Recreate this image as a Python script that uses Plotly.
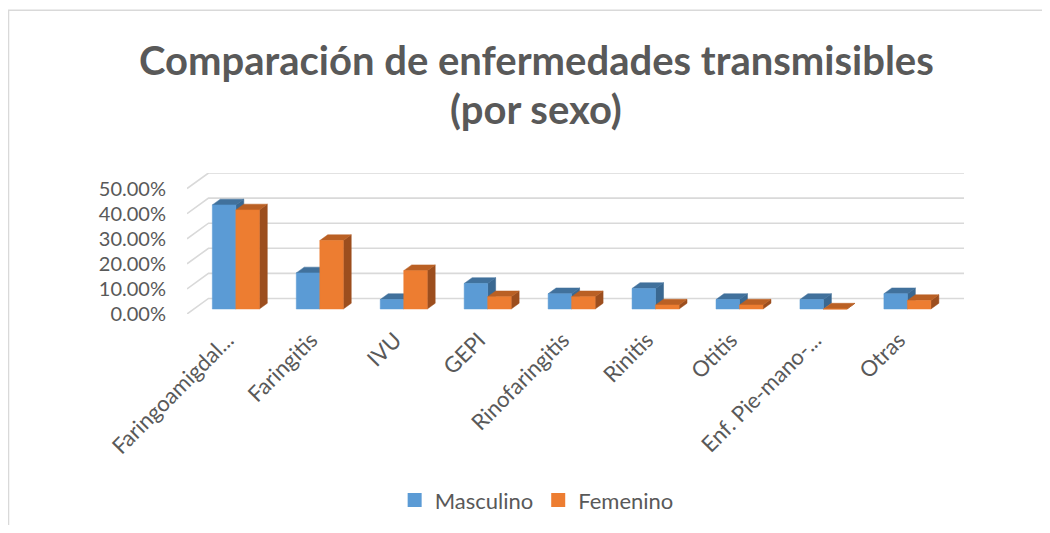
import plotly.graph_objects as go

# ---------------- data ----------------
categories = ["Faringoamigdal...", "Faringitis", "IVU", "GEPI", "Rinofaringitis",
              "Rinitis", "Otitis", "Enf. Pie-mano-...", "Otras"]
masculino = [41.5, 14.4, 3.8, 10.2, 6.1, 8.2, 3.8, 3.8, 6.1]   # %
femenino = [39.5, 27.3, 15.3, 4.9, 4.9, 1.6, 1.6, 0.0, 3.4]    # %
y_ticks = [0, 10, 20, 30, 40, 50]
y_tick_labels = ["0.00%", "10.00%", "20.00%", "30.00%", "40.00%", "50.00%"]
series_names = ["Masculino", "Femenino"]
title_lines = ["Comparación de enfermedades transmisibles", "(por sexo)"]

# ---------------- styling / pseudo-3D geometry ----------------
DX_WALL = 0.256   # floor depth, in category units
DY_WALL = 6.2     # floor depth, in % units
F0 = 0.32         # depth fraction where bar front faces sit
FD = 0.37         # bar depth fraction
BAR_W = 0.28
colors = {
    "Masculino": ("#5B9BD5", "#41719C", "#3A6891"),
    "Femenino": ("#ED7D31", "#BA6024", "#9C4E1E"),
}
GRID = "#D9D9D9"
TEXT = "#595959"
FONT = "Lato"

sx, sy = F0 * DX_WALL, F0 * DY_WALL
ddx, ddy = FD * DX_WALL, FD * DY_WALL
n = len(categories)
x_lo, x_hi = -0.5, n - 0.5

fig = go.Figure()

# back-wall gridlines + left-wall diagonals
for t in y_ticks:
    fig.add_trace(go.Scatter(
        x=[x_lo, x_lo + DX_WALL, x_hi + DX_WALL],
        y=[t, t + DY_WALL, t + DY_WALL],
        mode="lines", line=dict(color=GRID, width=1.6),
        showlegend=False, hoverinfo="skip"))


def faces(values, offset):
    fx, fy, tx, ty, rx, ry = [], [], [], [], [], []
    for k, v in enumerate(values):
        xl = k + sx + offset
        xr = xl + BAR_W
        b = sy
        top = b + v
        fx += [xl, xr, xr, xl, xl, None]
        fy += [b, b, top, top, b, None]
        tx += [xl, xr, xr + ddx, xl + ddx, xl, None]
        ty += [top, top, top + ddy, top + ddy, top, None]
        rx += [xr, xr + ddx, xr + ddx, xr, xr, None]
        ry += [b, b + ddy, top + ddy, top, b, None]
    return (fx, fy), (tx, ty), (rx, ry)


for name, vals, off in [("Masculino", masculino, -BAR_W), ("Femenino", femenino, 0.0)]:
    front, topf, side = faces(vals, off)
    cf, ct, cs = colors[name]
    for (xx, yy), c in [(side, cs), (topf, ct), (front, cf)]:
        fig.add_trace(go.Scatter(
            x=xx, y=yy, mode="lines", fill="toself", fillcolor=c,
            line=dict(color=c, width=0.5), showlegend=False, hoverinfo="skip"))

# legend entries
for name in series_names:
    fig.add_trace(go.Scatter(x=[None], y=[None], name=name, mode="markers",
                             marker=dict(symbol="square", size=14,
                                         color=colors[name][0])))

fig.update_layout(
    width=1034, height=517,
    margin=dict(l=179, r=78, t=165, b=211, autoexpand=False),
    paper_bgcolor="white", plot_bgcolor="white",
    font=dict(family=FONT, color=TEXT, size=20),
    showlegend=True,
    legend=dict(orientation="h", x=0.45, xanchor="center", y=-1.32, yanchor="middle",
                font=dict(size=22, color=TEXT), itemwidth=30, traceorder="normal",
                itemsizing="trace"),
    xaxis=dict(range=[x_lo, x_hi + DX_WALL], showgrid=False, zeroline=False,
               showline=False, tickmode="array",
               tickvals=[k - 0.02 for k in range(n)], ticktext=categories,
               tickangle=-45, ticks="", ticklabelstandoff=8,
               tickfont=dict(size=22, color=TEXT)),
    yaxis=dict(range=[0, y_ticks[-1] + DY_WALL], showgrid=False, zeroline=False,
               showline=False, tickmode="array", tickvals=y_ticks,
               ticktext=y_tick_labels, ticks="", ticklabelstandoff=20,
               tickfont=dict(size=20, color=TEXT)),
    annotations=[
        dict(text="<b>%s</b>" % title_lines[0], xref="paper", yref="paper",
             x=0.4498, y=1.8035, xanchor="center", yanchor="middle", showarrow=False,
             font=dict(family=FONT, size=40, color=TEXT)),
        dict(text="<b>%s</b>" % title_lines[1], xref="paper", yref="paper",
             x=0.4498, y=1.456, xanchor="center", yanchor="middle", showarrow=False,
             font=dict(family=FONT, size=40, color=TEXT)),
    ],
    shapes=[dict(type="rect", xref="paper", yref="paper",
                 x0=-0.2297, x1=1.3, y0=-2.0, y1=2.155,
                 line=dict(color=GRID, width=1.5), fillcolor="rgba(0,0,0,0)",
                 layer="below")],
)

fig.write_html("out.html", config={"displayModeBar": False})
